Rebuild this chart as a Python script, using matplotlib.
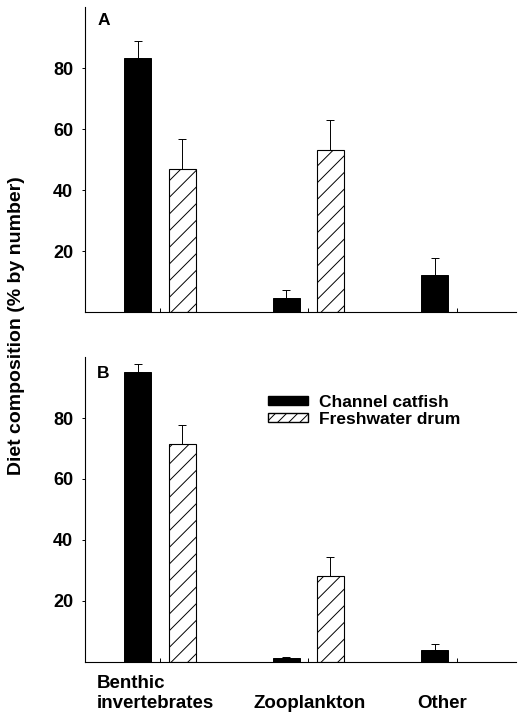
import numpy as np
import matplotlib
matplotlib.use("Agg")
import matplotlib.pyplot as plt
from matplotlib.patches import Patch

plt.rcParams['font.family'] = ['Liberation Sans', 'DejaVu Sans']
plt.rcParams['font.weight'] = 'bold'
plt.rcParams['hatch.linewidth'] = 0.7

# data
categories = ["Benthic\ninvertebrates", "Zooplankton", "Other"]
series = ["Channel catfish", "Freshwater drum"]

catfish_A = [83.2, 4.8, 12.2]
catfish_A_err = [5.6, 2.5, 5.6]
drum_A = [46.8, 53.0, 0.0]
drum_A_err = [10.0, 10.0, 0.0]

catfish_B = [95.2, 1.0, 3.7]
catfish_B_err = [2.5, 0.5, 2.2]
drum_B = [71.6, 28.2, 0.0]
drum_B_err = [6.1, 6.0, 0.0]

panels = [("A", catfish_A, catfish_A_err, drum_A, drum_A_err),
          ("B", catfish_B, catfish_B_err, drum_B, drum_B_err)]

W, H = 518, 712
fig = plt.figure(figsize=(W / 100, H / 100), dpi=100)

# axes boxes in pixels: left, top, right, bottom
boxes = [(85, 7, 516, 312.3), (85, 357.3, 516, 661.5)]
label_y = [0.957, 0.948]

x = np.arange(len(categories))
width = 0.182
off = 0.149
err_kw = dict(ecolor='black', elinewidth=0.7, capsize=2.6, capthick=0.7)

axes = []
for (label, cat, cat_err, drum, drum_err), (l, t, r, b), ly in zip(panels, boxes, label_y):
    ax = fig.add_axes([l / W, 1 - b / H, (r - l) / W, (b - t) / H])
    axes.append(ax)
    # one-sided (upper) error bars
    ax.bar(x - off, cat, width, color='black', edgecolor='black', linewidth=0.7,
           yerr=[np.zeros(len(cat)), cat_err], error_kw=err_kw, label=series[0])
    drum_mask = np.array(drum) > 0
    ax.bar(x[drum_mask] + off, np.array(drum)[drum_mask], width, color='white',
           edgecolor='black', linewidth=0.8, hatch='//',
           yerr=[np.zeros(drum_mask.sum()), np.array(drum_err)[drum_mask]],
           error_kw=err_kw, label=series[1])

    ax.set_xlim(-0.506, 2.4)
    ax.set_ylim(0, 100)
    ax.set_yticks([20, 40, 60, 80])
    ax.set_xticks(x)
    ax.set_xticklabels([])
    ax.tick_params(axis='y', direction='out', length=2.5, width=0.7, pad=6,
                   labelsize=13)
    ax.tick_params(axis='x', direction='in', length=3, width=0.7)
    for s in ['top', 'right']:
        ax.spines[s].set_visible(False)
    for s in ['left', 'bottom']:
        ax.spines[s].set_linewidth(0.8)
    ax.text(0.028, ly, label, transform=ax.transAxes, fontsize=12.5,
            fontweight='bold', ha='left', va='center')

axB = axes[1]
# category names sit under the groups, bottom-aligned
label_shift = [-0.03, 0.01, -0.1]
for xi, dx, name in zip(x, label_shift, categories):
    axB.text(xi + dx, -0.165, name, transform=axB.get_xaxis_transform(),
             ha='center', va='bottom', multialignment='left',
             fontsize=13.5, fontweight='bold')

handles = [Patch(facecolor='black', edgecolor='black', label=series[0]),
           Patch(facecolor='white', edgecolor='black', hatch='///', label=series[1])]
axB.legend(handles=handles, loc='upper left', bbox_to_anchor=(0.405, 0.905),
           frameon=False, fontsize=12.5, handlelength=2.3, handleheight=0.4,
           handletextpad=0.6, labelspacing=0.1, borderpad=0)

fig.text(17 / W, 1 - 326 / H, "Diet composition (% by number)", rotation=90,
         ha='center', va='center', fontsize=14, fontweight='bold')

fig.savefig("out.png", dpi=100)
